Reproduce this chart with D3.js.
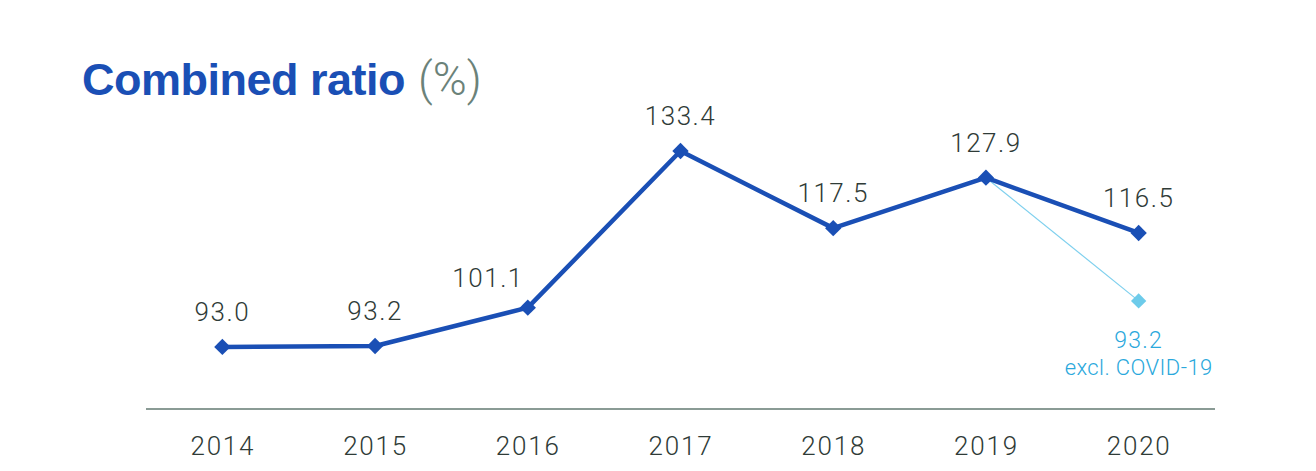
<!DOCTYPE html>
<html>
<head>
<meta charset="utf-8">
<script src="https://cdn.jsdelivr.net/npm/d3@7"></script>
<style>
  body { margin: 0; background: #fff; }
  svg { display: block; }
</style>
</head>
<body>
<svg id="chart"></svg>
<script>
// Data
const years = ['2014', '2015', '2016', '2017', '2018', '2019', '2020'];
const ratios = [93.0, 93.2, 101.1, 133.4, 117.5, 127.9, 116.5];
// Excl. COVID-19 figure: label value, and the height at which the source draws it
const exclLabel = '93.2';
const exclDrawnAt = 102.5;
const exclNote = 'excl. COVID-19';

const width = 1316, height = 471;
const svg = d3.select('#chart').attr('width', width).attr('height', height);

const x = d3.scalePoint().domain(years).range([146, 1215]).padding(0.5);
const y = d3.scaleLinear().domain([80, 140]).range([410, 119]);

const blue = '#1a4fb5';
const textCol = '#2f3b37';
const cyan = '#2aa8dc';
const font = 'Roboto, "Liberation Sans", sans-serif';

// Title
const title = svg.append('text')
  .attr('x', 82).attr('y', 95)
  .attr('font-family', '"Liberation Sans", Arial, sans-serif')
  .attr('font-size', 45);
title.append('tspan').attr('font-weight', 700).attr('fill', blue)
  .attr('letter-spacing', -0.5).text('Combined ratio');
title.append('tspan').attr('dx', 13)
  .attr('font-family', font).attr('font-weight', 300).attr('font-size', 46)
  .attr('fill', '#6b8279').text('(%)');

// Axis
const axis = svg.append('g').attr('transform', `translate(0,${y(80) - 1})`)
  .call(d3.axisBottom(x).tickSize(0).tickPadding(28));
axis.select('.domain').attr('stroke', '#8a9b95').attr('stroke-width', 2)
  .attr('d', `M${x.range()[0]},0H${x.range()[1]}`);
axis.selectAll('text')
  .attr('font-family', font).attr('font-size', 26).attr('font-weight', 300)
  .attr('letter-spacing', 1.8).attr('fill', textCol);

// Excl. COVID-19 branch
const i19 = years.indexOf('2019');
svg.append('line')
  .attr('x1', x('2019')).attr('y1', y(ratios[i19]))
  .attr('x2', x('2020')).attr('y2', y(exclDrawnAt))
  .attr('stroke', '#7fd0ee').attr('stroke-width', 1.2);

const diamond = d3.symbol().type(d3.symbolDiamond2);

svg.append('path')
  .attr('d', diamond.size(150)())
  .attr('transform', `translate(${x('2020')},${y(exclDrawnAt)})`)
  .attr('fill', '#6dcbea');

svg.append('text')
  .attr('x', x('2020')).attr('y', y(exclDrawnAt) + 47)
  .attr('text-anchor', 'middle')
  .attr('font-family', font).attr('font-size', 23).attr('font-weight', 300)
  .attr('letter-spacing', 1.2)
  .attr('fill', cyan).text(exclLabel);
svg.append('text')
  .attr('x', x('2020')).attr('y', y(exclDrawnAt) + 74)
  .attr('text-anchor', 'middle')
  .attr('font-family', font).attr('font-size', 22).attr('font-weight', 300)
  .attr('letter-spacing', 0.4)
  .attr('fill', cyan).text(exclNote);

// Main line
const line = d3.line().x((d, i) => x(years[i])).y(d => y(d));
svg.append('path')
  .datum(ratios)
  .attr('fill', 'none')
  .attr('stroke', blue)
  .attr('stroke-width', 4.5)
  .attr('stroke-linejoin', 'round')
  .attr('d', line);

svg.selectAll('path.marker')
  .data(ratios)
  .enter()
  .append('path')
  .attr('class', 'marker')
  .attr('d', diamond.size(170)())
  .attr('transform', (d, i) => `translate(${x(years[i])},${y(d)})`)
  .attr('fill', blue);

// Value labels (2016 sits up-left of its point, clear of the rising line)
svg.selectAll('text.value')
  .data(ratios)
  .enter()
  .append('text')
  .attr('class', 'value')
  .attr('x', (d, i) => years[i] === '2016' ? x(years[i]) - 4 : x(years[i]))
  .attr('y', (d, i) => years[i] === '2016' ? y(d) - 21 : y(d) - 26)
  .attr('text-anchor', (d, i) => years[i] === '2016' ? 'end' : 'middle')
  .attr('font-family', font).attr('font-size', 26).attr('font-weight', 300)
  .attr('letter-spacing', 1.5)
  .attr('fill', textCol)
  .text(d => d.toFixed(1));
</script>
</body>
</html>
